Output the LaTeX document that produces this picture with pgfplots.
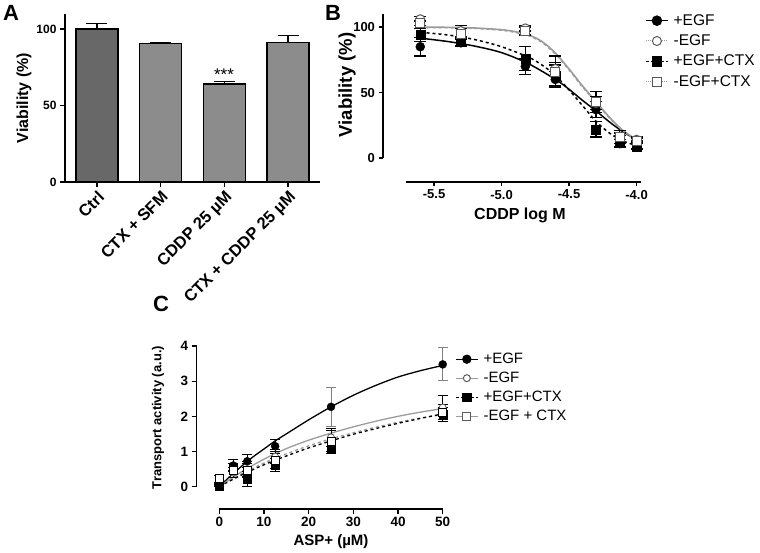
\documentclass[border=0pt]{standalone}
\usepackage{fontspec}
\setmainfont{Liberation Sans}
\usepackage{pgfplots}
\pgfplotsset{compat=1.18}
\definecolor{barDark}{RGB}{104,104,104}
\definecolor{barLight}{RGB}{140,140,140}
\definecolor{lgray}{RGB}{155,155,155}
\definecolor{mgray}{RGB}{90,90,90}
\begin{document}
\begin{tikzpicture}[x=1pt,y=1pt]
\useasboundingbox (0,0) rectangle (760,553);
\pgfplotsset{
  gp/.style={
    scale only axis, clip=false,
    axis lines*=left,
    axis line style={line width=1.3pt,-},
    tick style={line width=1.3pt,black},
    major tick length=5pt,
    tick align=outside,
    /pgf/number format/assume math mode=true,
  },
  leg/.style={
    legend cell align=left,
    legend image code/.code={\draw[mark repeat=2,mark phase=2,##1] plot coordinates {(0pt,0pt) (11pt,0pt) (22pt,0pt)}; \path (25pt,0pt);},
  },
  bpts/.style={only marks, forget plot,
    error bars/y dir=both, error bars/y explicit,
    error bars/error bar style={line width=1.3pt,black},
    error bars/error mark options={rotate=90, mark size=6pt, line width=1.3pt, black}},
  cpts/.style={only marks, forget plot,
    error bars/y dir=both, error bars/y explicit,
    error bars/error bar style={line width=1pt,#1},
    error bars/error mark options={rotate=90, mark size=5pt, line width=1pt, #1}},
}
% ---------------- Panel A ----------------
\begin{axis}[gp, at={(65pt,371pt)}, anchor=south west, width=255pt, height=168.3pt,
  xmin=-0.5, xmax=3.5, ymin=0, ymax=110,
  xtick={0,1,2,3}, xticklabels={Ctrl, CTX + SFM, CDDP 25 µM, CTX + CDDP 25 µM},
  xticklabel style={rotate=45, anchor=north east, inner sep=2pt, font=\bfseries\fontsize{16.5}{16.5}\selectfont},
  ytick={0,50,100},
  yticklabel style={font=\bfseries\fontsize{12}{12}\selectfont},
  ybar, bar width=42pt]
\addplot[fill=barDark, draw=black, line width=1.3pt, bar shift=0pt,
  error bars/.cd, y dir=plus, y explicit, error bar style={line width=1.3pt,black},
  error mark options={rotate=90, mark size=10.5pt, line width=1.3pt, black}]
  coordinates {(0,100) +- (0,3.5)};
\addplot[fill=barLight, draw=black, line width=1.3pt, bar shift=0pt,
  error bars/.cd, y dir=plus, y explicit, error bar style={line width=1.3pt,black},
  error mark options={rotate=90, mark size=10.5pt, line width=1.3pt, black}]
  coordinates {(1,90.3) +- (0,0.6) (2,64) +- (0,1.6) (3,91.3) +- (0,4.6)};
\end{axis}
\node[font=\fontsize{17}{17}\selectfont] at (224,478) {***};
\node[rotate=90, font=\bfseries\fontsize{16}{16}\selectfont] at (24,455) {Viability (\%)};
\node[anchor=north west, font=\bfseries\fontsize{22}{22}\selectfont, inner sep=0pt] at (3,548) {A};

% ---------------- Panel B ----------------
\begin{axis}[gp, leg, at={(383pt,371pt)}, anchor=south west, width=257.6pt, height=168pt,
  axis line style={draw=none}, major tick length=4.5pt,
  xmin=-5.878, xmax=-3.97, ymin=-18.3, ymax=110,
  xtick={-5.5,-5,-4.5,-4}, xticklabels={-5.5,-5.0,-4.5,-4.0},
  ytick={0,50,100},
  ticklabel style={font=\bfseries\fontsize{13}{13}\selectfont},
  legend style={at={(1.017,1.01)}, anchor=north west, draw=none, fill=none,
    font=\fontsize{15.5}{15.5}\selectfont, row sep=4pt, inner sep=0pt}]
\draw[line width=1.3pt] (axis cs:-5.878,0) -- (axis cs:-5.878,110);
\draw[line width=1.3pt] (axis cs:-5.707,-18.3) -- (axis cs:-3.97,-18.3);
% fitted curves
\addplot[black, line width=1.5pt, smooth, forget plot] coordinates {
 (-5.6,91.5) (-5.4,89) (-5.2,85.5) (-5.0,80.5) (-4.8,72) (-4.6,60) (-4.5,52.5)
 (-4.4,44) (-4.3,36) (-4.2,27.5) (-4.1,20) (-4.0,14)};
\addplot[black, line width=1.5pt, dashed, smooth, forget plot] coordinates {
 (-5.6,96) (-5.4,94) (-5.2,90.5) (-5.0,85) (-4.8,77) (-4.7,71) (-4.6,63) (-4.5,52)
 (-4.4,40) (-4.3,28) (-4.2,19) (-4.1,13) (-4.0,9.5)};
\addplot[lgray, line width=1.5pt, dashed, smooth, forget plot] coordinates {
 (-5.6,99.7) (-5.4,99.5) (-5.2,99) (-5.0,97.6) (-4.9,96) (-4.8,93.5) (-4.7,88.3)
 (-4.6,79.3) (-4.5,67.3) (-4.4,54.3) (-4.3,42.5) (-4.2,30.5) (-4.1,20.7) (-4.0,14)};
\addplot[lgray, line width=1.6pt, smooth, forget plot] coordinates {
 (-5.6,100) (-5.4,99.8) (-5.2,99.3) (-5.0,98) (-4.9,96.5) (-4.8,94) (-4.7,89)
 (-4.6,80) (-4.5,68) (-4.4,55) (-4.3,43) (-4.2,31) (-4.1,21) (-4.0,14)};
% points
\addplot[bpts, mark=*, mark size=4.5pt, mark options={draw=black, fill=black}] coordinates {
 (-5.602,85) +- (0,7) (-5.301,88) +- (0,3) (-4.824,70) +- (0,6) (-4.602,60) +- (0,6)
 (-4.301,37) +- (0,6) (-4.125,11) +- (0,3) (-4.0,10) +- (0,3)};
\addplot[bpts, mark=*, mark size=4.5pt, mark options={draw=mgray, fill=white, line width=1pt}] coordinates {
 (-5.602,106) +- (0,2) (-5.301,97) +- (0,4) (-4.824,99) +- (0,2) (-4.602,68) +- (0,5)
 (-4.301,42) +- (0,5) (-4.125,15) +- (0,4) (-4.0,14) +- (0,2)};
\addplot[bpts, mark=square*, mark size=4.5pt, mark options={draw=black, fill=black}] coordinates {
 (-5.602,94) +- (0,5) (-5.301,89) +- (0,3) (-4.824,76) +- (0,9) (-4.602,63) +- (0,8)
 (-4.301,22) +- (0,6) (-4.125,13) +- (0,4) (-4.0,9) +- (0,2)};
\addplot[bpts, mark=square*, mark size=4.5pt, mark options={draw=mgray, fill=white, line width=1pt}] coordinates {
 (-5.602,103) +- (0,2) (-5.301,95) +- (0,4) (-4.824,97) +- (0,3) (-4.602,66) +- (0,12)
 (-4.301,43) +- (0,8) (-4.125,16) +- (0,5) (-4.0,13) +- (0,2)};
\addlegendimage{black, line width=1.5pt, mark=*, mark size=4.5pt, mark options={solid, fill=black}}
\addlegendentry{+EGF}
\addlegendimage{lgray, line width=1pt, densely dotted, mark=*, mark size=4.5pt, mark options={solid, fill=white, draw=mgray}}
\addlegendentry{-EGF}
\addlegendimage{black, line width=1.5pt, densely dashed, mark=square*, mark size=4.5pt, mark options={solid, fill=black}}
\addlegendentry{+EGF+CTX}
\addlegendimage{lgray, line width=1pt, densely dotted, mark=square*, mark size=4.5pt, mark options={solid, fill=white, draw=mgray}}
\addlegendentry{-EGF+CTX}
\end{axis}
\node[rotate=90, font=\bfseries\fontsize{18.5}{18.5}\selectfont] at (347,468) {Viability (\%)};
\node[font=\bfseries\fontsize{16}{16}\selectfont] at (520,338) {CDDP log M};
\node[anchor=north west, font=\bfseries\fontsize{22}{22}\selectfont, inner sep=0pt] at (325,548) {B};

% ---------------- Panel C ----------------
\begin{axis}[gp, leg, at={(196.7pt,44pt)}, anchor=south west, width=246pt, height=162.4pt,
  axis line style={draw=none},
  xmin=-5.06, xmax=50, ymin=-0.64, ymax=4,
  xtick={0,10,20,30,40,50}, ytick={0,1,2,3,4},
  ticklabel style={font=\bfseries\fontsize{13.5}{13.5}\selectfont},
  legend style={at={(1.05,0.97)}, anchor=north west, draw=none, fill=none,
    font=\fontsize{15}{15}\selectfont, row sep=3pt, inner sep=0pt}]
\draw[line width=1.3pt] (axis cs:-5.06,0) -- (axis cs:-5.06,4);
\draw[line width=1.3pt] (axis cs:0,-0.64) -- (axis cs:50,-0.64);
\addplot[black, line width=1.3pt, smooth, forget plot] coordinates {
 (0,0) (2.5,0.3) (5,0.58) (7.5,0.84) (10,1.07) (12.5,1.3) (15,1.5) (20,1.9)
 (25,2.27) (30,2.6) (35,2.88) (40,3.12) (45,3.3) (50,3.45)};
\addplot[lgray, line width=1.3pt, smooth, forget plot] coordinates {
 (0,0) (5,0.42) (10,0.78) (15,1.08) (20,1.32) (25,1.52) (30,1.7) (35,1.86) (40,2.0) (45,2.12) (50,2.22)};
\addplot[lgray, line width=1.3pt, dashed, smooth, forget plot] coordinates {
 (0,0) (5,0.36) (10,0.67) (15,0.93) (20,1.16) (25,1.36) (30,1.53) (35,1.69) (40,1.83) (45,1.95) (50,2.05)};
\addplot[black, line width=1.3pt, dashed, smooth, forget plot] coordinates {
 (0,0) (5,0.33) (10,0.62) (15,0.87) (20,1.1) (25,1.3) (30,1.49) (35,1.65) (40,1.8) (45,1.94) (50,2.07)};
\addplot[cpts=black, mark=*, mark size=4pt, mark options={draw=black, fill=black}] coordinates {
 (0,0.05) +- (0,0.03) (3.125,0.6) +- (0,0.18) (6.25,0.72) +- (0,0.18) (12.5,1.15) +- (0,0.2)};
\addplot[cpts=gray, mark=*, mark size=4pt, mark options={draw=black, fill=black}] coordinates {
 (25,2.27) +- (0,0.56) (50,3.48) +- (0,0.47)};
\addplot[cpts=black, mark=*, mark size=3.5pt, mark options={draw=mgray, fill=white, line width=0.8pt}] coordinates {
 (0,0.05) +- (0,0.05) (3.125,0.4) +- (0,0.15) (6.25,0.5) +- (0,0.2) (12.5,0.85) +- (0,0.2)
 (25,1.4) +- (0,0.25) (50,2.25) +- (0,0.35)};
\addplot[cpts=black, mark=square*, mark size=4pt, mark options={draw=black, fill=black}] coordinates {
 (0,0.02) +- (0,0.03) (3.125,0.55) +- (0,0.1) (6.25,0.22) +- (0,0.22) (12.5,0.62) +- (0,0.18)
 (25,1.1) +- (0,0.15) (50,2.05) +- (0,0.2)};
\addplot[cpts=black, mark=square*, mark size=4pt, mark options={draw=black, fill=white, line width=0.8pt}] coordinates {
 (0,0.22) +- (0,0.1) (3.125,0.45) +- (0,0.2) (6.25,0.45) +- (0,0.2) (12.5,0.75) +- (0,0.25)
 (25,1.3) +- (0,0.3) (50,2.1) +- (0,0.25)};
\addlegendimage{black, line width=1.3pt, mark=*, mark size=4pt, mark options={solid, fill=black}}
\addlegendentry{+EGF}
\addlegendimage{lgray, line width=1pt, mark=*, mark size=3.5pt, mark options={solid, fill=white, draw=mgray}}
\addlegendentry{-EGF}
\addlegendimage{black, line width=1.3pt, densely dashed, mark=square*, mark size=4pt, mark options={solid, fill=black}}
\addlegendentry{+EGF+CTX}
\addlegendimage{lgray, line width=1pt, mark=square*, mark size=4pt, mark options={solid, fill=white, draw=mgray}}
\addlegendentry{-EGF + CTX}
\end{axis}
\node[rotate=90, font=\bfseries\fontsize{13}{13}\selectfont] at (158,135.5) {Transport activity (a.u.)};
\node[font=\bfseries\fontsize{15}{15}\selectfont] at (331,11) {ASP+ (µM)};
\node[anchor=north west, font=\bfseries\fontsize{22}{22}\selectfont, inner sep=0pt] at (153,257) {C};
\end{tikzpicture}
\end{document}
